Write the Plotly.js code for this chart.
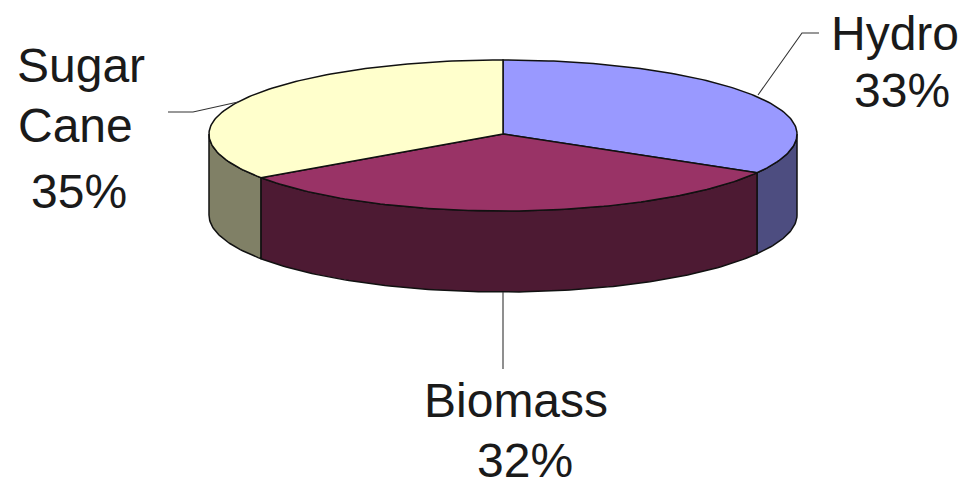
<!DOCTYPE html>
<html>
<head>
<meta charset="utf-8">
<script src="https://cdn.plot.ly/plotly-3.0.1.min.js"></script>
<style>html,body{margin:0;padding:0;background:#fff;overflow:hidden}#chart{width:958px;height:490px}</style>
</head>
<body>
<div id="chart"></div>
<script>
// Data
var categories = ['Hydro', 'Biomass', 'Sugar Cane'];
var shares = [33.4, 32.0, 34.6];
var topColors = ['#9999FF', '#993366', '#FFFFCC'];
var sideColors = ['#4D4D80', '#4D1A33', '#808066'];

// Label lines for each category
var labelLines = [['Hydro'], ['Biomass'], ['Sugar', 'Cane']];

// Pie geometry, in the axes' units
var CX = 503, CY = 134, RX = 294, RY_BACK = 74, RY_FRONT = 77, DEPTH = 81;

function pt(deg, dy) {
  var r = deg * Math.PI / 180, c = Math.cos(r), s = Math.sin(r);
  return [CX + RX * s, CY - (c >= 0 ? RY_BACK : RY_FRONT) * c + (dy || 0)];
}
function arc(a, b, dy) {
  var out = [], n = Math.max(2, Math.ceil(Math.abs(b - a)));
  for (var i = 0; i <= n; i++) out.push(pt(a + (b - a) * i / n, dy));
  return out;
}
function polyTrace(points, fill) {
  return {
    type: 'scatter', mode: 'lines', hoverinfo: 'skip', showlegend: false,
    x: points.map(function (p) { return p[0]; }),
    y: points.map(function (p) { return p[1]; }),
    fill: 'toself', fillcolor: fill,
    line: { color: '#111111', width: 1.5, shape: 'linear' }
  };
}
function lineTrace(xs, ys) {
  return {
    type: 'scatter', mode: 'lines', hoverinfo: 'skip', showlegend: false,
    x: xs, y: ys, line: { color: '#333333', width: 1.1 }
  };
}

var total = shares.reduce(function (a, b) { return a + b; }, 0);
var edges = [0];
shares.forEach(function (v, i) { edges.push(edges[i] + v / total * 360); });

var traces = [];
// walls: only the part of each slice on the front half (90..270 degrees)
shares.forEach(function (v, i) {
  var a = Math.max(edges[i], 90), b = Math.min(edges[i + 1], 270);
  if (b <= a) return;
  var pts = arc(a, b, 0).concat(arc(b, a, DEPTH));
  pts.push(pts[0]);
  traces.push(polyTrace(pts, sideColors[i]));
});
// top faces
shares.forEach(function (v, i) {
  var pts = [[CX, CY]].concat(arc(edges[i], edges[i + 1], 0));
  pts.push([CX, CY]);
  traces.push(polyTrace(pts, topColors[i]));
});
// leader lines
traces.push(lineTrace([758, 802, 819], [95, 33, 33]));
traces.push(lineTrace([238, 193, 168], [102, 112, 112]));
traces.push(lineTrace([503, 503], [292, 369]));

// text placement per label line
var labelPos = [
  { lines: [[895, 33]], pct: [902, 90] },
  { lines: [[516, 400]], pct: [525, 460] },
  { lines: [[81, 65], [75, 125]], pct: [79, 191] }
];
var font = { family: '"Liberation Sans", Arial, sans-serif', size: 48, color: '#1a1a1a' };
function note(text, p) {
  return { text: text, x: p[0], y: p[1], xref: 'x', yref: 'y', showarrow: false,
           xanchor: 'center', yanchor: 'middle', font: font, borderpad: 0 };
}
var annotations = [];
categories.forEach(function (c, i) {
  labelLines[i].forEach(function (t, j) { annotations.push(note(t, labelPos[i].lines[j])); });
  annotations.push(note(Math.round(shares[i]) + '%', labelPos[i].pct));
});

var hidden = { visible: false, fixedrange: true };
Plotly.newPlot('chart', traces, {
  width: 958, height: 490,
  margin: { l: 0, r: 0, t: 0, b: 0 },
  paper_bgcolor: '#ffffff', plot_bgcolor: '#ffffff',
  showlegend: false,
  xaxis: Object.assign({ range: [0, 958] }, hidden),
  yaxis: Object.assign({ range: [490, 0] }, hidden),
  annotations: annotations
}, { displayModeBar: false, staticPlot: true });
</script>
</body>
</html>
